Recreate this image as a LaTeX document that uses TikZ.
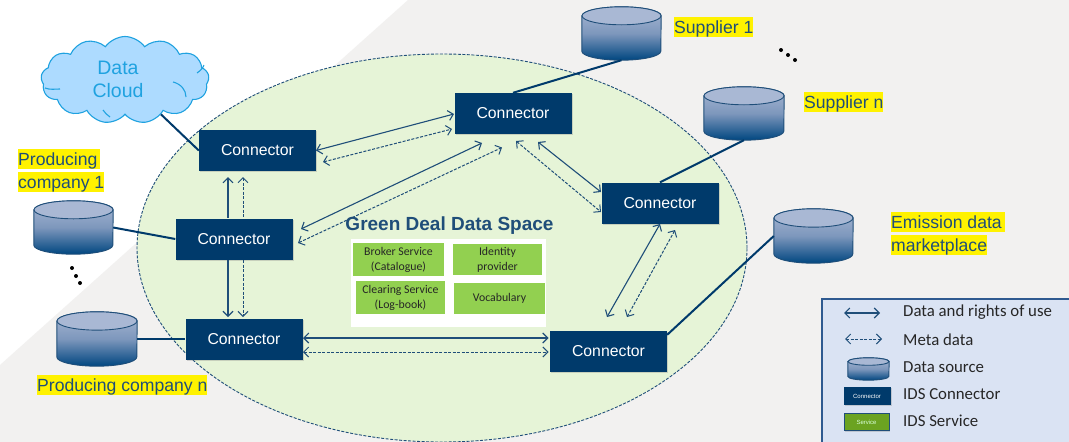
\documentclass[tikz,border=0pt]{standalone}
\usepackage{fontspec}
\setmainfont{Liberation Sans}
\newfontfamily\carlito{Carlito}
\usetikzlibrary{arrows.meta,shapes.geometric,shapes.symbols,shadows}
\definecolor{pagegray}{HTML}{F2F1F0}
\definecolor{spacegreen}{HTML}{E6F4D7}
\definecolor{navy}{HTML}{003A6B}
\definecolor{linkblue}{HTML}{1F4E79}
\definecolor{srctop}{HTML}{A9B8D4}
\definecolor{srcmid}{HTML}{7D97BC}
\definecolor{srcbot}{HTML}{004680}
\definecolor{boxgreen}{HTML}{92D050}
\definecolor{legendblue}{HTML}{DAE3F3}
\definecolor{legendline}{HTML}{2F5A90}
\definecolor{svcgreen}{HTML}{6BA321}
\definecolor{cloudfill}{HTML}{ADDBFF}
\definecolor{cloudline}{HTML}{1FA2E0}
\newcommand{\datasource}[4]{
\node[srcbox,minimum width=2*#3,minimum height=#4] (#1) at (#2) {};
\draw[srcline,top color=srctop,bottom color=srcbot,middle color=srcmid]
([yshift=-9pt*#4/53]#1.north west) -- ([yshift=9pt*#4/53]#1.south west)
arc[start angle=180,end angle=360,x radius=#3pt,y radius=9pt*#4/53]
-- ([yshift=-9pt*#4/53]#1.north east)
arc[start angle=0,end angle=180,x radius=#3pt,y radius=9pt*#4/53] -- cycle;
\draw[srcline,fill=srctop] ([yshift=-9pt*#4/53]#1.north) ellipse[x radius=#3pt,y radius=9pt*#4/53];
}
\begin{document}
\begin{tikzpicture}[x=1pt,y=-1pt,
conn/.style={
	rectangle,minimum width=117,minimum height=41,inner sep=0,
	fill=navy,text=white,font=\fontsize{15.8}{18}\selectfont,
	drop shadow={shadow xshift=1pt,shadow yshift=-1pt,opacity=.3}},
srcbox/.style={rectangle,inner sep=0},
srcline/.style={draw=linkblue,line width=.9},
link/.style={draw=navy,line width=2},
data/.style={draw=linkblue,line width=1.1,{Straight Barb[length=5,width=10]}-{Straight Barb[length=5,width=10]}},
meta/.style={draw=linkblue,line width=1,dash pattern=on 3pt off 1.5pt,{Straight Barb[length=5,width=10]}-{Straight Barb[length=5,width=10]}},
hilite/.style={
	anchor=west,fill=yellow,inner sep=0,text=linkblue,
	text height=16pt,text depth=4pt,font=\fontsize{17.6}{20}\selectfont},
service/.style={
	rectangle,fill=boxgreen,inner sep=0,align=center,text=black!85,
	font=\carlito\fontsize{11.8}{15}\selectfont},
legendtext/.style={anchor=west,inner sep=0,text=black!85,font=\carlito\fontsize{16.8}{18}\selectfont},
cloudarc/.style={draw=cloudline,line width=1.1},
]
\useasboundingbox (0,0) rectangle (1069,442);
\clip (0,0) rectangle (1069,442);
\fill[white] (0,0) rectangle (1069,442);
\fill[pagegray] (408,0) -- (1069,0) -- (1069,442) -- (0,442) -- (0,365) -- cycle;
\node[ellipse,minimum width=610,minimum height=388,inner sep=0,fill=spacegreen,draw=linkblue,
	line width=.9,dash pattern=on 3pt off 1.5pt] (space) at (442,248) {};

\node[cloud,cloud puffs=13,cloud puff arc=110,aspect=1.9,minimum width=168,minimum height=87,inner sep=0,
	fill=cloudfill,draw=cloudline,line width=1.1] (cloud) at (125,80) {};
\node[align=center,inner sep=0,text=cloudline,font=\fontsize{19.5}{23}\selectfont] (cloudtext) at (118,79) {Data\\Cloud};
\draw[cloudarc] (173,82) .. controls (181,84) and (186,90) .. (186,97);
\draw[cloudarc] (197,73) .. controls (200,71) and (203,68) .. (204,65);
\draw[cloudarc] (45,88) .. controls (50,90) and (55,89) .. (60,89);
\draw[cloudarc] (103,110) .. controls (105,113) and (107,115) .. (110,117);

\node[conn] (connCloud) at (257.5,150.5) {Connector};
\node[conn] (connProdA) at (234,239) {Connector};
\node[conn] (connProdN) at (244,339) {Connector};
\node[conn] (connSupA) at (513,113.5) {Connector};
\node[conn] (connSupN) at (660,203) {Connector};
\node[conn] (connMarket) at (608.5,351.5) {Connector};

\datasource{srcSupA}{621.5,33.5}{39.5}{53}
\datasource{srcSupN}{744,113.5}{40}{53}
\datasource{srcMarket}{813.5,236}{39.5}{54}
\datasource{srcProdA}{73.5,227.5}{39.5}{53}
\datasource{srcProdN}{97,339}{40}{54}

\draw[link] (cloud) -- (connCloud.west);
\draw[link] (srcProdA.east) -- (connProdA.west);
\draw[link] (srcProdN.east) -- (connProdN.west);
\draw[link] (srcSupA.south) -- (connSupA.north);
\draw[link] (srcSupN.south) -- (connSupN.north);
\draw[link] (srcMarket.west) -- ([shift={(0,4)}]connMarket.north east);

\draw[data] ([shift={(58.5,0)}]connCloud.center) -- ([shift={(-59,.5)}]connSupA.center);
\draw[meta] ([shift={(65.5,11.5)}]connCloud.center) -- ([shift={(-61,15.5)}]connSupA.center);
\draw[data] ([shift={(67,-10)}]connProdA.center) -- ([shift={(-31,29.5)}]connSupA.center);
\draw[meta] ([shift={(64,4)}]connProdA.center) -- ([shift={(-11,34)}]connSupA.center);
\draw[data,{Straight Barb[length=5,width=10]}-] ([shift={(-29.5,26.5)}]connCloud.center) -- ([shift={(-6,-21)}]connProdA.center);
\draw[meta,{Straight Barb[length=5,width=10]}-] ([shift={(-14.5,26.5)}]connCloud.center) -- ([shift={(9,-21)}]connProdA.center);
\draw[data,-{Straight Barb[length=5,width=10]}] ([shift={(-6,21)}]connProdA.center) -- ([shift={(-16,-22)}]connProdN.center);
\draw[meta,-{Straight Barb[length=5,width=10]}] ([shift={(9,21)}]connProdA.center) -- ([shift={(-1,-22)}]connProdN.center);
\draw[data] ([shift={(59,-1)}]connProdN.center) -- ([shift={(-60,-13.5)}]connMarket.center);
\draw[meta] ([shift={(59,13)}]connProdN.center) -- ([shift={(-60,.5)}]connMarket.center);
\draw[data] ([shift={(25,28.5)}]connSupA.center) -- ([shift={(-59,-11)}]connSupN.center);
\draw[meta] ([shift={(3,27.5)}]connSupA.center) -- ([shift={(-59,9)}]connSupN.center);
\draw[data] ([shift={(0,21)}]connSupN.center) -- ([shift={(-1.5,-34.5)}]connMarket.center);
\draw[meta] ([shift={(15,27)}]connSupN.center) -- ([shift={(18.5,-34.5)}]connMarket.center);

\node[text=linkblue,inner sep=0,font=\bfseries\fontsize{19}{20}\selectfont] (title) at (449.5,226) {Green Deal Data Space};
\node[rectangle,fill=white,minimum width=195,minimum height=88,inner sep=0] (panel) at (448.5,283) {};
\node[service,minimum width=91,minimum height=33] (broker) at (398.5,259.5) {Broker Service\\(Catalogue)};
\node[service,minimum width=89,minimum height=31] (identity) at (497.5,259.5) {Identity\\provider};
\node[service,minimum width=89,minimum height=33] (clearing) at (400.5,297.5) {Clearing Service\\(Log-book)};
\node[service,minimum width=91,minimum height=31] (vocab) at (499.5,298.5) {Vocabulary};

\node[hilite] (lblSupA) at (674,27) {Supplier 1};
\node[hilite] (lblSupN) at (804,102) {Supplier n};
\node[hilite] (lblMarketA) at (891,222) {Emission data\,};
\node[hilite] (lblMarketB) at (891,245) {marketplace};
\node[hilite] (lblProdA) at (18,159) {Producing\,};
\node[hilite] (lblProdB) at (18,182) {company 1};
\node[hilite] (lblProdN) at (37,385) {Producing company n};

\foreach \dotx/\doty in {72/268,76/276,80/283,781/50,788/55,795/60}
	\fill[black] (\dotx,\doty) circle[radius=2pt];

\node[rectangle,anchor=north west,minimum width=260,minimum height=155,inner sep=0,fill=legendblue,
	draw=legendline,line width=2] (legend) at (821,298) {};
\coordinate (legDataL) at (844,313);
\coordinate (legDataR) at (880,313);
\coordinate (legMetaL) at (845,339);
\coordinate (legMetaR) at (882,339);
\draw[data] (legDataL) -- (legDataR);
\draw[meta] (legMetaL) -- (legMetaR);
\datasource{legSrc}{868.5,369}{20.5}{22}
\node[conn,minimum width=47,minimum height=18,font=\fontsize{6}{7}\selectfont] (legConn) at (867,396) {Connector};
\node[rectangle,minimum width=45,minimum height=17,inner sep=0,fill=svcgreen,draw=linkblue,line width=.9,
	text=white!85!green,font=\fontsize{6}{7}\selectfont,
	drop shadow={shadow xshift=1pt,shadow yshift=-1pt,opacity=.3}] (legSvc) at (866.5,422) {Service};
\node[legendtext] (txtData) at (903,312) {Data and rights of use};
\node[legendtext] (txtMeta) at (903,340) {Meta data};
\node[legendtext] (txtSrc) at (903,367) {Data source};
\node[legendtext] (txtConn) at (903,394.5) {IDS Connector};
\node[legendtext] (txtSvc) at (903,421) {IDS Service};
\end{tikzpicture}
\end{document}
